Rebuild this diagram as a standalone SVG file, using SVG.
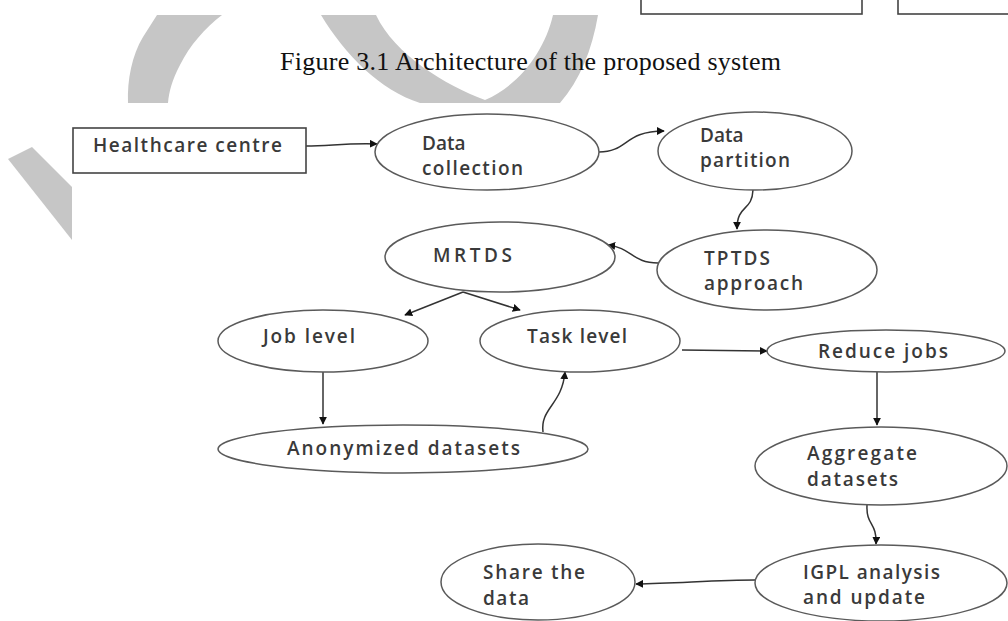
<svg xmlns="http://www.w3.org/2000/svg" width="1008" height="621" viewBox="0 0 1008 621">
<style>
.wm{fill:#c6c6c6;stroke:none}
.box{fill:#fff;stroke:#444;stroke-width:1.6}
.nd{fill:#fff;stroke:#5a5a5a;stroke-width:1.5}
.lb{font-family:"Open Sans","Liberation Sans",sans-serif;font-size:19px;font-weight:600;fill:#3a3a3a}
.title{font-family:"Liberation Serif","Times New Roman",serif;font-size:26px;fill:#111}
.cn{fill:none;stroke:#333;stroke-width:1.5;marker-end:url(#ah)}
</style>
<defs>
<marker id="ah" viewBox="0 0 10 10" refX="9" refY="5" markerWidth="8" markerHeight="8" markerUnits="userSpaceOnUse" orient="auto">
<path d="M0,0 L10,5 L0,10 Z" fill="#111"/>
</marker>
</defs>
<rect width="1008" height="621" fill="#fff"/>
<g id="watermark">
<path class="wm" d="M128,103 C127,80 132,55 143,37 L157,15 L222,15 C205,28 190,45 180,65 C172,80 169,92 168,103 Z"/>
<path class="wm" d="M321,15 C345,55 380,90 420,103 L560,103 C580,80 592,50 598,15 L553,15 C545,50 520,85 485,100 C445,85 395,55 376,15 Z"/>
<path class="wm" d="M8,159 L32,147 L72,187 L72,240 Z"/>
</g>
<g id="top-boxes">
<rect class="box" x="641" y="-4" width="221" height="18"/>
<rect class="box" x="898" y="-4" width="120" height="18"/>
</g>
<text class="title" x="280" y="70" textLength="501">Figure 3.1 Architecture of the proposed system</text>
<g id="connectors">
<path class="cn" d="M306,146 C330,146 345,143 377,144"/>
<path class="cn" d="M599,152 C628,152 624,131 664,131"/>
<path class="cn" d="M753,190 C752,212 737,204 737,229"/>
<path class="cn" d="M658,263 C632,263 632,248 608,245"/>
<path class="cn" d="M463,292 L405,315"/>
<path class="cn" d="M463,292 L520,310"/>
<path class="cn" d="M323,372 L323,424"/>
<path class="cn" d="M543,432 C540,408 562,405 565,372"/>
<path class="cn" d="M682,350 L767,351"/>
<path class="cn" d="M877,372 L877,425"/>
<path class="cn" d="M867,505 C866,526 877,522 876,544"/>
<path class="cn" d="M755,580 C720,580 680,583 636,584"/>
</g>
<g id="healthcare">
<rect class="box" x="73" y="128" width="233" height="45"/>
<text class="lb" x="93" y="152" textLength="189">Healthcare centre</text>
</g>
<g id="data-collection">
<ellipse class="nd" cx="487" cy="152" rx="112" ry="38"/>
<text class="lb" x="422" y="150">Data</text>
<text class="lb" x="422" y="175" textLength="101">collection</text>
</g>
<g id="data-partition">
<ellipse class="nd" cx="755" cy="151" rx="97" ry="39"/>
<text class="lb" x="700" y="142">Data</text>
<text class="lb" x="700" y="167" textLength="90">partition</text>
</g>
<g id="tptds">
<ellipse class="nd" cx="767" cy="270" rx="110" ry="40"/>
<text class="lb" x="704" y="265" textLength="66">TPTDS</text>
<text class="lb" x="704" y="290" textLength="99">approach</text>
</g>
<g id="mrtds">
<ellipse class="nd" cx="500" cy="257" rx="115" ry="35"/>
<text class="lb" x="433" y="262" textLength="79">MRTDS</text>
</g>
<g id="job-level">
<ellipse class="nd" cx="323" cy="341" rx="105" ry="31"/>
<text class="lb" x="263" y="343" textLength="92">Job level</text>
</g>
<g id="task-level">
<ellipse class="nd" cx="580" cy="341" rx="100" ry="31"/>
<text class="lb" x="527" y="343" textLength="100">Task level</text>
</g>
<g id="anonymized">
<ellipse class="nd" cx="403" cy="449" rx="185" ry="24"/>
<text class="lb" x="287" y="455" textLength="233">Anonymized datasets</text>
</g>
<g id="reduce-jobs">
<ellipse class="nd" cx="886" cy="351" rx="119" ry="21"/>
<text class="lb" x="818" y="358" textLength="130">Reduce jobs</text>
</g>
<g id="aggregate">
<ellipse class="nd" cx="881" cy="466" rx="126" ry="39"/>
<text class="lb" x="807" y="460" textLength="110">Aggregate</text>
<text class="lb" x="807" y="486" textLength="91">datasets</text>
</g>
<g id="igpl">
<ellipse class="nd" cx="881" cy="583" rx="126" ry="38"/>
<text class="lb" x="803" y="579" textLength="137">IGPL analysis</text>
<text class="lb" x="803" y="604" textLength="122">and update</text>
</g>
<g id="share">
<ellipse class="nd" cx="538" cy="582" rx="97" ry="38"/>
<text class="lb" x="483" y="579" textLength="102">Share the</text>
<text class="lb" x="483" y="605" textLength="46">data</text>
</g>
</svg>
